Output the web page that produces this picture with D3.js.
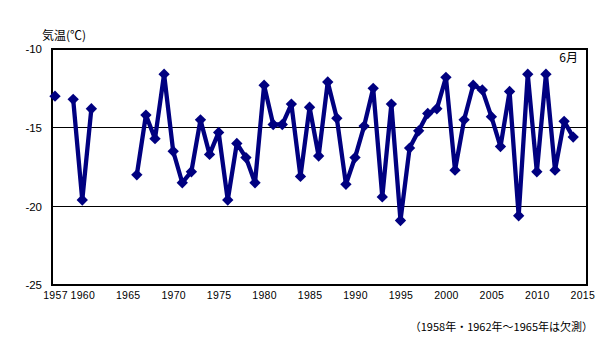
<!DOCTYPE html>
<html><head><meta charset="utf-8">
<script src="https://cdn.jsdelivr.net/npm/d3@7"></script>
<style>body{margin:0;background:#fff}svg{display:block}</style>
</head><body>
<script>
const years = [1957,1959,1960,1961,1966,1967,1968,1969,1970,1971,1972,1973,1974,1975,1976,1977,1978,1979,1980,1981,1982,1983,1984,1985,1986,1987,1988,1989,1990,1991,1992,1993,1994,1995,1996,1997,1998,1999,2000,2001,2002,2003,2004,2005,2006,2007,2008,2009,2010,2011,2012,2013,2014];
const temps = [-13.0,-13.2,-19.6,-13.8,-18.0,-14.2,-15.7,-11.6,-16.5,-18.5,-17.8,-14.5,-16.7,-15.3,-19.6,-16.0,-16.9,-18.5,-12.3,-14.8,-14.8,-13.5,-18.1,-13.7,-16.8,-12.1,-14.4,-18.6,-16.9,-14.9,-12.5,-19.4,-13.5,-20.9,-16.3,-15.2,-14.1,-13.8,-11.8,-17.7,-14.5,-12.3,-12.6,-14.3,-16.2,-12.7,-20.6,-11.6,-17.8,-11.6,-17.7,-14.6,-15.6];
const xTicks = [1957,1960,1965,1970,1975,1980,1985,1990,1995,2000,2005,2010,2015];
const yTicks = [-10,-15,-20,-25];
const yLabel = "気温(℃)";
const monthLabel = "6月";
const note = "（1958年・1962年～1965年は欠測）";

const W = 603, H = 340;
const L = 52, R = 587, T = 49, B = 285;
const svg = d3.select("body").append("svg").attr("width", W).attr("height", H);
const x = d3.scaleLinear().domain([1957, 2015]).range([55, 582.3]);
const y = d3.scaleLinear().domain([-25, -10]).range([B, T]);
const font = "'Liberation Sans', Arial, sans-serif";
const jfont = "'Noto Sans CJK JP', sans-serif";

// gridlines
svg.append("g").selectAll("line").data(yTicks.filter(v => v > -25 && v < -10)).join("line")
  .attr("x1", L).attr("x2", R).attr("y1", d => y(d)).attr("y2", d => y(d))
  .attr("stroke", "#000").attr("stroke-width", 1).attr("shape-rendering", "crispEdges");
// frame
svg.append("rect").attr("x", L).attr("y", T).attr("width", R - L).attr("height", B - T)
  .attr("fill", "none").attr("stroke", "#000").attr("stroke-width", 1.2).attr("shape-rendering", "crispEdges");

// y axis labels
const yAxis = d3.axisLeft(y).tickValues(yTicks).tickSize(0).tickPadding(10).tickFormat(d => "-" + Math.abs(d));
const yg = svg.append("g").attr("transform", `translate(${L},0)`).call(yAxis);
yg.select(".domain").remove();
yg.selectAll("text").attr("font-family", font).attr("font-size", 11.5).attr("fill", "#000");

// x axis labels
const xAxis = d3.axisBottom(x).tickValues(xTicks).tickSize(0).tickPadding(7).tickFormat(d3.format("d"));
const xg = svg.append("g").attr("transform", `translate(0,${B})`).call(xAxis);
xg.select(".domain").remove();
xg.selectAll("text").attr("font-family", font).attr("font-size", 10.5).attr("fill", "#000").attr("letter-spacing", 0.3);

// line with gaps for missing years
const pts = years.map((yr, i) => ({yr, v: temps[i]}));
const line = d3.line().defined(d => d.v !== null).x(d => x(d.yr)).y(d => y(d.v));
const full = [];
for (let yr = 1957; yr <= 2014; yr++) {
  const i = years.indexOf(yr);
  full.push({yr, v: i >= 0 ? temps[i] : null});
}
svg.append("path").datum(full).attr("d", line).attr("fill", "none")
  .attr("stroke", "#000080").attr("stroke-width", 4.3).attr("stroke-linejoin", "round");

// diamond markers
svg.append("g").selectAll("path").data(pts).join("path")
  .attr("d", d3.symbol().type(d3.symbolDiamond2).size(82))
  .attr("transform", d => `translate(${x(d.yr)},${y(d.v)})`)
  .attr("fill", "#000080");

// texts
svg.append("text").attr("x", 42).attr("y", 40).attr("font-family", jfont).attr("font-size", 12)
  .attr("fill", "#000").text(yLabel);
svg.append("text").attr("x", 578).attr("y", 62).attr("text-anchor", "end").attr("font-family", jfont)
  .attr("font-size", 12).attr("fill", "#000").text(monthLabel);
svg.append("text").attr("x", 593).attr("y", 331).attr("text-anchor", "end").attr("font-family", jfont)
  .attr("font-size", 11).attr("fill", "#000").text(note);
</script>
</body></html>
